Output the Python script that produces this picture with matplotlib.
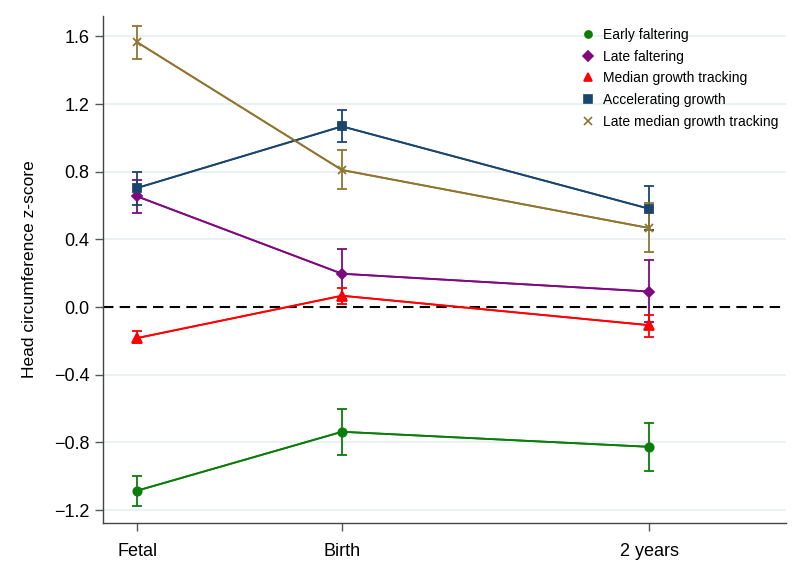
import matplotlib.pyplot as plt

plt.rcParams['font.family'] = ['Liberation Sans', 'DejaVu Sans']

# time points (Birth to 2 years spaced 1.5x Fetal to Birth)
timepoints = ['Fetal', 'Birth', '2 years']
xpos = [0, 1, 2.5]

groups = ['Early faltering', 'Late faltering', 'Median growth tracking',
          'Accelerating growth', 'Late median growth tracking']

early_mean = [-1.085, -0.737, -0.826]
early_lo = [-1.175, -0.873, -0.968]
early_hi = [-0.998, -0.601, -0.684]

late_mean = [0.654, 0.197, 0.092]
late_lo = [0.556, 0.05, -0.09]
late_hi = [0.749, 0.345, 0.278]

median_mean = [-0.183, 0.067, -0.107]
median_lo = [-0.213, 0.02, -0.174]
median_hi = [-0.14, 0.11, -0.047]

accel_mean = [0.704, 1.068, 0.581]
accel_lo = [0.605, 0.976, 0.453]
accel_hi = [0.80, 1.167, 0.713]

latemed_mean = [1.565, 0.81, 0.467]
latemed_lo = [1.467, 0.698, 0.323]
latemed_hi = [1.663, 0.926, 0.617]

series = [
    (early_mean, early_lo, early_hi, '#0a7d0a', 'o', 6),
    (late_mean, late_lo, late_hi, '#7f0a80', 'D', 5.5),
    (median_mean, median_lo, median_hi, '#ff0000', '^', 7),
    (accel_mean, accel_lo, accel_hi, '#1a456e', 's', 6),
    (latemed_mean, latemed_lo, latemed_hi, '#8f7530', 'x', 6),
]

fig = plt.figure(figsize=(8, 5.73), dpi=100)
ax = fig.add_axes([0.129, 0.087, 0.854, 0.885])

yticks = [-1.2, -0.8, -0.4, 0.0, 0.4, 0.8, 1.2, 1.6]
for t in yticks:
    if t != 0:
        ax.axhline(t, color='#e6eff1', lw=1.2, zorder=0)
ax.axhline(0, color='black', lw=1.5, ls=(0, (5, 3)), zorder=1)

for (m, lo, hi, c, mk, ms), name in zip(series, groups):
    err = [[mi - l for mi, l in zip(m, lo)], [h - mi for mi, h in zip(m, hi)]]
    ax.errorbar(xpos, m, yerr=err, color=c, lw=1.3, capsize=3.8, capthick=1.3,
                elinewidth=1.3, zorder=3)
    ax.plot(xpos, m, marker=mk, ms=ms, color=c, lw=1.3, mew=1.3, zorder=4,
            label=name, linestyle='-')

ax.set_xlim(-0.166, 3.17)
ax.set_ylim(-1.277, 1.72)
ax.set_xticks(xpos)
ax.set_xticklabels(timepoints, fontsize=13)
ax.set_yticks(yticks)
ax.set_yticklabels(['\u22121.2', '\u22120.8', '\u22120.4', '0.0', '0.4', '0.8', '1.2', '1.6'],
                   fontsize=13)
ax.set_ylabel('Head circumference z-score', fontsize=12.5, labelpad=12)
ax.tick_params(axis='both', direction='out', length=6, color='#555555', width=1)
ax.tick_params(axis='x', pad=8)
ax.tick_params(axis='y', pad=4)
for s in ['top', 'right']:
    ax.spines[s].set_visible(False)
for s in ['left', 'bottom']:
    ax.spines[s].set_color('#444444')
    ax.spines[s].set_linewidth(1)

handles = [plt.Line2D([], [], marker=mk, ms=ms * 0.85, color=c, linestyle='none', mew=1.2)
           for (_, _, _, c, mk, ms) in series]
fig.legend(handles, groups, loc='upper left', bbox_to_anchor=(0.728, 0.951), frameon=False,
           fontsize=10, handlelength=0.8, handletextpad=0.68, labelspacing=0.55,
           borderaxespad=0, borderpad=0)

fig.savefig('out.png', dpi=100)
